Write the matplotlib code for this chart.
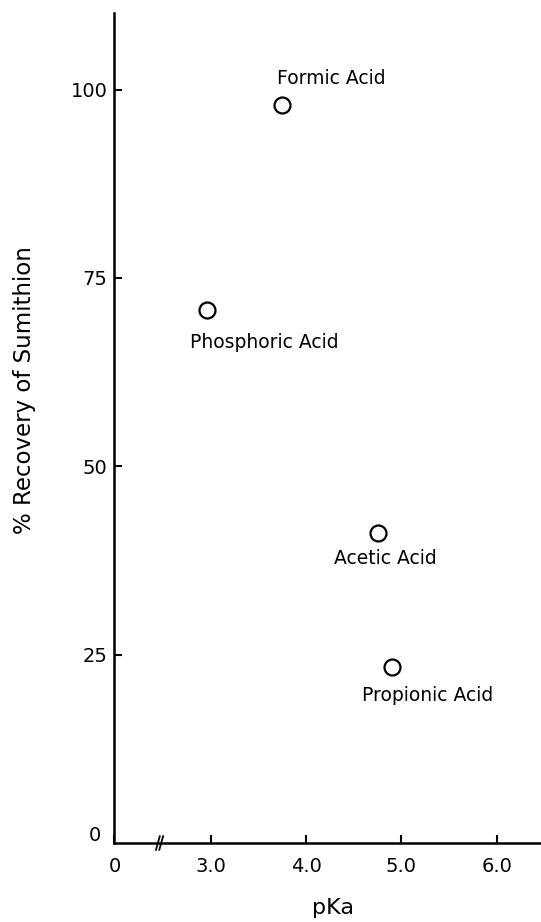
import matplotlib.pyplot as plt

# pKa vs recovery
acids = ["Formic Acid", "Phosphoric Acid", "Acetic Acid", "Propionic Acid"]
pka = [3.75, 2.96, 4.75, 4.90]
recovery = [98.0, 70.7, 41.2, 23.3]
# label offsets (points) relative to each marker
label_offsets = [(35, 19), (41, -23), (6, -19), (26, -20)]

x_ticks = [0, 3.0, 4.0, 5.0, 6.0]
x_ticklabels = ["0", "3.0", "4.0", "5.0", "6.0"]
y_ticks = [25, 50, 75, 100]

# axis is broken between 0 and 3.0: shift real values left
SHIFT = 1.99


def to_axis(x):
    return x - SHIFT if x > 0 else 0.0


plt.rcParams['font.family'] = ['DejaVu Sans']

fig = plt.figure(figsize=(5.41, 9.22), dpi=100)
W, H = 541, 922
left, right, bottom, top = 114.5, 541, 843, 12.7
ax = fig.add_axes([left / W, 1 - bottom / H, (right - left) / W, (bottom - top) / H])

xs = [to_axis(v) for v in pka]
ax.plot(xs, recovery, 'o', ms=11.5, mfc='white', mec='black', mew=1.6, ls='none')

for name, x, y, off in zip(acids, xs, recovery, label_offsets):
    ax.annotate(name, (x, y), xytext=off, textcoords='offset points',
                ha='center', va='center', fontsize=13.5)

ax.set_xlim(0, (right - left) / 95.3)
ax.set_ylim(0, 110.2)

ax.set_xticks([to_axis(v) for v in x_ticks])
ax.set_xticklabels(x_ticklabels)
ax.set_yticks(y_ticks)
ax.set_yticklabels([str(v) for v in y_ticks])

ax.tick_params(axis='both', direction='in', length=6, width=1.5, labelsize=14)
ax.tick_params(axis='x', pad=10)
ax.tick_params(axis='y', pad=5)

for s in ['top', 'right']:
    ax.spines[s].set_visible(False)
for s in ['left', 'bottom']:
    ax.spines[s].set_linewidth(1.8)

# the y "0" sits a bit above the corner
fig.text(95 / W, 1 - 835 / H, "0", ha='center', va='center', fontsize=14)

# axis break marks
for bx in [0.455, 0.49]:
    ax.plot([bx - 0.02, bx + 0.02], [-0.9, 0.9], color='black', lw=1.3, clip_on=False)

fig.text(25 / W, 1 - 390 / H, "% Recovery of Sumithion", rotation=90,
         ha='center', va='center', fontsize=16.5)
fig.text(333 / W, 1 - 908 / H, "pKa", ha='center', va='center', fontsize=16)

fig.savefig("out.png", dpi=100, facecolor='white')
